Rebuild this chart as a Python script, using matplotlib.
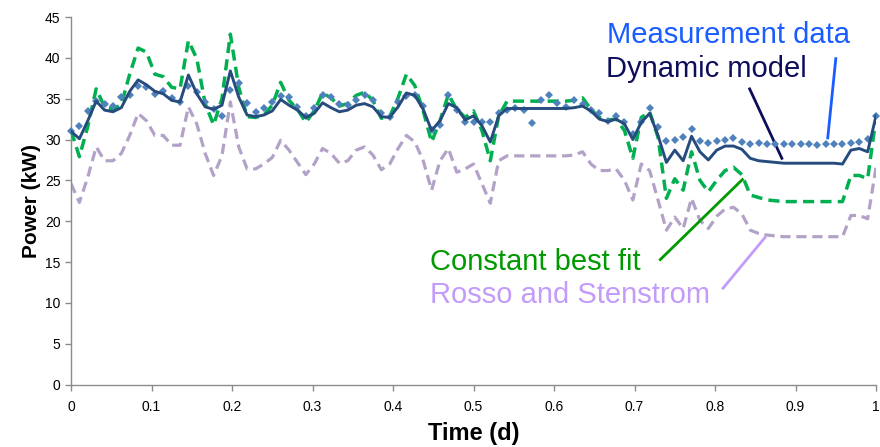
import numpy as np
import matplotlib
matplotlib.use("Agg")
import matplotlib.pyplot as plt

# time axis: 15-minute samples over one day
n_points = 97
time_d = [i / 96 for i in range(n_points)]

measurement = [31.0, 31.6, 33.5, 34.7, 34.4, 34.1, 35.2, 35.5, 36.5, 36.4,
               35.6, 36.0, 35.1, 34.6, 36.5, 35.8, 34.6, 33.7, 32.9, 36.1,
               36.9, 34.5, 33.4, 33.8, 34.6, 35.3, 35.2, 34.0, 32.9, 33.9,
               35.5, 35.2, 34.3, 34.2, 34.8, 35.5, 34.8, 33.2, 32.7, 34.6,
               35.3, 35.4, 34.1, 31.2, 31.8, 35.5, 33.6, 32.1, 32.1, 32.1,
               32.1, 33.2, 33.6, 33.9, 33.6, 32.0, 34.9, 35.5, 34.5, 34.0,
               34.8, 34.4, 33.6, 33.2, 32.3, 32.9, 32.2, 30.7, 32.2, 33.8,
               31.5, 29.8, 29.9, 30.3, 31.3, 29.8, 29.6, 29.8, 30.0, 30.2,
               29.7, 29.5, 29.6, 29.4, 29.5, 29.4, 29.4, 29.4, 29.4, 29.3,
               29.5, 29.5, 29.5, 29.6, 29.7, 30.1, 32.9]

dynamic_model = [31.0, 30.1, 32.3, 34.7, 33.6, 33.4, 33.9, 35.9, 37.3, 36.7,
                 35.9, 35.6, 34.8, 34.6, 37.9, 35.6, 34.0, 33.7, 34.2, 38.4,
                 35.2, 33.0, 32.8, 33.0, 33.5, 34.9, 34.2, 33.6, 32.7, 33.2,
                 34.5, 33.9, 33.4, 33.6, 34.2, 34.4, 34.0, 32.8, 32.7, 34.0,
                 35.7, 35.4, 33.7, 31.1, 32.3, 34.4, 33.9, 32.4, 32.9, 31.7,
                 29.7, 32.9, 33.8, 33.8, 33.8, 33.8, 33.8, 33.8, 33.8, 33.8,
                 33.9, 34.1, 33.5, 32.5, 32.2, 32.5, 31.9, 30.0, 32.1, 33.2,
                 30.5, 27.2, 28.7, 27.4, 30.4, 28.5, 27.5, 28.7, 29.2, 29.2,
                 28.8, 27.7, 27.4, 27.3, 27.2, 27.1, 27.1, 27.1, 27.1, 27.1,
                 27.1, 27.1, 27.0, 28.7, 28.9, 28.5, 32.9]

constant_best_fit = [31.1, 27.9, 31.6, 36.2, 34.0, 33.7, 34.3, 38.0, 41.2, 40.7,
                     38.0, 37.7, 36.4, 36.2, 42.1, 39.9, 34.4, 31.8, 35.0, 42.9,
                     36.4, 32.8, 32.7, 33.0, 34.2, 37.0, 34.8, 33.7, 32.1, 33.5,
                     35.7, 35.1, 34.1, 34.4, 35.4, 35.8, 34.8, 32.6, 32.8, 35.1,
                     38.0, 36.6, 33.5, 29.7, 32.3, 35.5, 33.7, 32.7, 33.5, 31.1,
                     27.4, 32.9, 34.7, 34.7, 34.7, 34.7, 34.7, 34.7, 34.7, 34.7,
                     34.8, 35.1, 33.7, 32.7, 32.4, 32.5, 31.1, 27.7, 32.7, 33.4,
                     30.3, 22.8, 25.2, 23.8, 28.5, 25.0, 23.6, 25.0, 26.2, 26.6,
                     25.7, 23.2, 22.9, 22.6, 22.5, 22.4, 22.4, 22.4, 22.4, 22.4,
                     22.4, 22.4, 22.4, 25.6, 25.6, 25.2, 32.7]

rosso_stenstrom = [24.6, 22.3, 25.4, 29.1, 27.4, 27.4, 28.3, 30.5, 33.2, 32.3,
                   30.5, 30.5, 29.3, 29.3, 34.0, 31.9, 28.3, 25.6, 28.0, 34.6,
                   29.1, 26.4, 26.4, 27.0, 27.8, 29.9, 28.7, 27.2, 25.7, 27.0,
                   28.9, 28.3, 27.1, 27.4, 28.7, 29.1, 28.1, 26.3, 27.0, 28.9,
                   30.5, 29.7, 27.4, 23.8, 27.4, 28.9, 26.0, 26.4, 27.0, 24.6,
                   22.2, 27.4, 28.0, 28.0, 28.0, 28.0, 28.0, 28.0, 28.0, 28.0,
                   28.1, 28.5, 27.0, 26.2, 26.2, 26.4, 25.0, 22.6, 27.0, 26.2,
                   22.6, 18.9, 20.5, 19.1, 22.8, 20.1, 19.1, 20.6, 21.5, 21.7,
                   20.9, 18.9, 18.5, 18.3, 18.2, 18.1, 18.1, 18.1, 18.1, 18.1,
                   18.1, 18.1, 18.1, 20.7, 20.7, 20.3, 26.6]

x_ticks = [0, 0.1, 0.2, 0.3, 0.4, 0.5, 0.6, 0.7, 0.8, 0.9, 1]
x_tick_labels = ["0", "0.1", "0.2", "0.3", "0.4", "0.5", "0.6", "0.7", "0.8", "0.9", "1"]
y_ticks = [0, 5, 10, 15, 20, 25, 30, 35, 40, 45]

plt.rcParams['font.family'] = ['Liberation Sans', 'DejaVu Sans']

fig = plt.figure(figsize=(8.8, 4.47), dpi=100)
ax = fig.add_axes([0.0807, 0.1398, 0.9148, 0.8221])

ax.plot(time_d, rosso_stenstrom, color='#B3A2C7', lw=2.3, ls=(0, (3.2, 1.8)),
        zorder=2, dash_joinstyle='round', dash_capstyle='butt')
ax.plot(time_d, constant_best_fit, color='#00B050', lw=2.5, ls=(0, (3.2, 1.8)),
        zorder=3, dash_joinstyle='round', dash_capstyle='butt')
ax.plot(time_d, measurement, ls='none', marker='D', markersize=4.4,
        color='#4F81BD', markeredgewidth=0, zorder=4, clip_on=False)
ax.plot(time_d, dynamic_model, color='#264B7D', lw=2.1, zorder=5,
        solid_joinstyle='round')

ax.set_xlim(0, 1)
ax.set_ylim(0, 45)
ax.set_xticks(x_ticks)
ax.set_xticklabels(x_tick_labels)
ax.set_yticks(y_ticks)

for side in ['top', 'right']:
    ax.spines[side].set_visible(False)
for side in ['left', 'bottom']:
    ax.spines[side].set_color('#8C8C8C')
    ax.spines[side].set_linewidth(1.0)
ax.tick_params(axis='both', colors='#8C8C8C', length=4, width=1.0,
               labelcolor='black', labelsize=10)
ax.tick_params(axis='x', pad=7)

ax.set_xlabel('Time (d)', fontsize=17, fontweight='bold', labelpad=6)
ax.set_ylabel('Power (kW)', fontsize=15, fontweight='bold', labelpad=3)

# annotations
ax.text(0.666, 41.8, 'Measurement data', color='#1A5CFF', fontsize=21, ha='left', va='baseline')
ax.plot([0.950, 0.940], [39.9, 30.2], color='#1A5CFF', lw=2.0)

ax.text(0.665, 37.6, 'Dynamic model', color='#0D0D5C', fontsize=21, ha='left', va='baseline')
ax.plot([0.843, 0.883], [36.2, 27.7], color='#0D0D5C', lw=2.0)

ax.text(0.446, 14.0, 'Constant best fit', color='#009A00', fontsize=21, ha='left', va='baseline')
ax.plot([0.732, 0.834], [15.3, 25.1], color='#009A00', lw=2.0)

ax.text(0.446, 10.0, 'Rosso and Stenstrom', color='#C39BFA', fontsize=21, ha='left', va='baseline')
ax.plot([0.810, 0.862], [11.8, 18.0], color='#C39BFA', lw=2.0)

fig.savefig('out.png', dpi=100)
